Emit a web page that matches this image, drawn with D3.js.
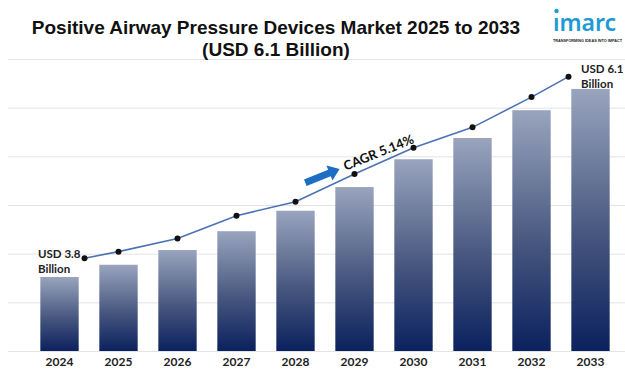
<!DOCTYPE html>
<html>
<head>
<meta charset="utf-8" />
<title>Positive Airway Pressure Devices Market 2025 to 2033</title>
<script src="https://cdn.jsdelivr.net/npm/d3@7"></script>
<style>
body { margin: 0; background: #fff; }
svg { display: block; }
</style>
</head>
<body>
<svg id="chart" width="625" height="375"></svg>
<script>
// data (USD billion)
const years = ["2024", "2025", "2026", "2027", "2028", "2029", "2030", "2031", "2032", "2033"];
const barValues = [3.8, 3.95, 4.13, 4.36, 4.61, 4.9, 5.24, 5.5, 5.84, 6.1];
const lineValues = [4.03, 4.11, 4.27, 4.55, 4.72, 5.06, 5.38, 5.63, 6.0, 6.25];
const titleLines = ["Positive Airway Pressure Devices Market 2025 to 2033", "(USD 6.1 Billion)"];
const startLabel = ["USD 3.8", "Billion"];
const endLabel = ["USD 6.1", "Billion"];
const cagrLabel = "CAGR 5.14%";

const width = 625, height = 375;
const plotBase = 351, plotTop = 59;

let svg = d3.select("#chart");

// gradient for the bars
let defs = svg.append("defs");
let grad = defs.append("linearGradient")
	.attr("id", "barGrad")
	.attr("x1", 0).attr("y1", 0).attr("x2", 0).attr("y2", 1);
grad.append("stop").attr("offset", "0%").attr("stop-color", "#99a4bd");
grad.append("stop").attr("offset", "55%").attr("stop-color", "#47577f");
grad.append("stop").attr("offset", "100%").attr("stop-color", "#0b215e");

let x = d3.scaleBand()
	.domain(years)
	.range([30, 620])
	.paddingInner(0.35)
	.paddingOuter(0.175);

// axis does not start at zero in the original
let y = d3.scaleLinear()
	.domain([2.895, 6.466])
	.range([plotBase, plotTop]);

// gridlines (6 equal steps)
let grid = d3.scaleLinear().domain([0, 6]).range([plotBase, plotTop]);
svg.append("g")
	.attr("transform", "translate(8,0)")
	.call(d3.axisLeft(grid).ticks(6).tickSize(-(width - 8)).tickFormat(""))
	.call(g => g.select(".domain").remove())
	.call(g => g.selectAll("line").attr("stroke", "#e3e3e3").attr("stroke-width", 1));

// bars
svg.append("g")
	.selectAll("rect")
	.data(years)
	.enter()
	.append("rect")
		.attr("x", d => x(d))
		.attr("y", (d, i) => y(barValues[i]))
		.attr("width", x.bandwidth())
		.attr("height", (d, i) => plotBase - y(barValues[i]))
		.attr("fill", "url(#barGrad)");

// x axis labels
svg.append("g")
	.attr("transform", "translate(0," + plotBase + ")")
	.call(d3.axisBottom(x).tickSize(0).tickPadding(6))
	.call(g => g.select(".domain").remove())
	.call(g => g.selectAll("text")
		.attr("font-family", "Lato, 'Open Sans', sans-serif")
		.attr("font-weight", "bold")
		.attr("font-size", 12)
		.attr("fill", "#222"));

// trend line; first and last point pulled inward to leave room for labels
function px(d, i) {
	let c = x(d) + x.bandwidth() / 2;
	if (i == 0) c += 25;
	if (i == years.length - 1) c -= 22;
	return c;
}
let line = d3.line()
	.x((d, i) => px(d, i))
	.y((d, i) => y(lineValues[i]));
svg.append("path")
	.datum(years)
	.attr("d", line)
	.attr("fill", "none")
	.attr("stroke", "#4a72b4")
	.attr("stroke-width", 1.6);
svg.append("g")
	.selectAll("circle")
	.data(years)
	.enter()
	.append("circle")
		.attr("cx", (d, i) => px(d, i))
		.attr("cy", (d, i) => y(lineValues[i]))
		.attr("r", 3)
		.attr("fill", "#111");

// start / end labels
const labelFont = "Lato, 'Open Sans', sans-serif";
function addLabel(lines, lx, ly) {
	let t = svg.append("text")
		.attr("font-family", labelFont)
		.attr("font-weight", "bold")
		.attr("font-size", 11.5)
		.attr("fill", "#222");
	lines.forEach((s, k) => t.append("tspan").attr("x", lx).attr("y", ly + k * 15).text(s));
}
addLabel(startLabel, 38, 258);
addLabel(endLabel, 581, 73);

// CAGR arrow and label
let cg = svg.append("g").attr("transform", "translate(322,176) rotate(-22)");
cg.append("path")
	.attr("d", "M-18,-3.5 L8,-3.5 L8,-8 L19,0 L8,8 L8,3.5 L-18,3.5 Z")
	.attr("fill", "#1b6ec2");
cg.append("text")
	.attr("x", 24)
	.attr("y", 4)
	.attr("font-family", labelFont)
	.attr("font-weight", "bold")
	.attr("font-size", 13)
	.attr("fill", "#111")
	.text(cagrLabel);

// title
svg.append("g")
	.selectAll("text")
	.data(titleLines)
	.enter()
	.append("text")
		.attr("x", 276)
		.attr("y", (d, i) => 34 + i * 22)
		.attr("text-anchor", "middle")
		.attr("font-family", "'Liberation Sans', Arial, sans-serif")
		.attr("font-weight", "bold")
		.attr("font-size", 19)
		.attr("fill", "#111")
		.text(d => d);

// logo
let logo = svg.append("g");
logo.append("circle").attr("cx", 556.5).attr("cy", 11).attr("r", 2.2).attr("fill", "#1c9ad6");
logo.append("text")
	.attr("x", 553)
	.attr("y", 31)
	.attr("font-family", "'Noto Sans', sans-serif")
	.attr("font-weight", 600)
	.attr("font-size", 23)
	.attr("fill", "#1c9ad6")
	.text("ımarc");
logo.append("text")
	.attr("x", 553)
	.attr("y", 41.5)
	.attr("font-family", "'Liberation Sans', Arial, sans-serif")
	.attr("font-weight", "bold")
	.attr("font-size", 3.8)
	.attr("fill", "#222")
	.text("TRANSFORMING IDEAS INTO IMPACT");
</script>
</body>
</html>
